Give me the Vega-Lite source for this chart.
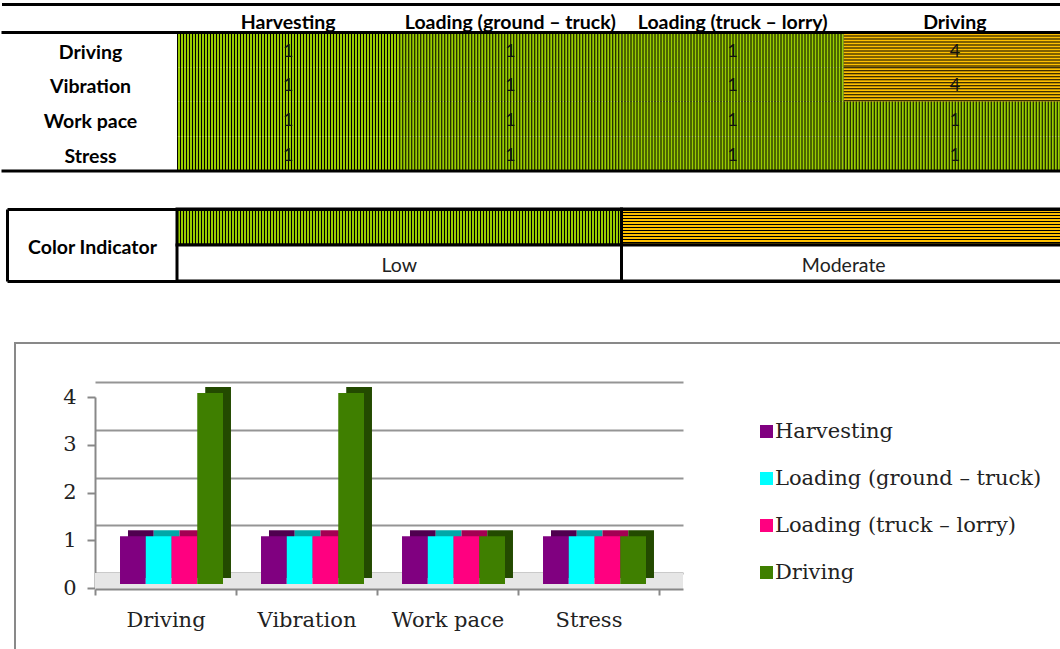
{
  "$schema": "https://vega.github.io/schema/vega-lite/v6.json",
  "background": "white",
  "padding": {"left": 0, "top": 4, "right": 0, "bottom": 0},
  "config": {"view": {"stroke": null}, "font": "Lato"},
  "datasets": {
    "ratings": [
      {"hazard": "Driving", "task": "Harvesting", "rating": 1, "level": "Low"},
      {"hazard": "Driving", "task": "Loading (ground – truck)", "rating": 1, "level": "Low"},
      {"hazard": "Driving", "task": "Loading (truck – lorry)", "rating": 1, "level": "Low"},
      {"hazard": "Driving", "task": "Driving", "rating": 4, "level": "Moderate"},
      {"hazard": "Vibration", "task": "Harvesting", "rating": 1, "level": "Low"},
      {"hazard": "Vibration", "task": "Loading (ground – truck)", "rating": 1, "level": "Low"},
      {"hazard": "Vibration", "task": "Loading (truck – lorry)", "rating": 1, "level": "Low"},
      {"hazard": "Vibration", "task": "Driving", "rating": 4, "level": "Moderate"},
      {"hazard": "Work pace", "task": "Harvesting", "rating": 1, "level": "Low"},
      {"hazard": "Work pace", "task": "Loading (ground – truck)", "rating": 1, "level": "Low"},
      {"hazard": "Work pace", "task": "Loading (truck – lorry)", "rating": 1, "level": "Low"},
      {"hazard": "Work pace", "task": "Driving", "rating": 1, "level": "Low"},
      {"hazard": "Stress", "task": "Harvesting", "rating": 1, "level": "Low"},
      {"hazard": "Stress", "task": "Loading (ground – truck)", "rating": 1, "level": "Low"},
      {"hazard": "Stress", "task": "Loading (truck – lorry)", "rating": 1, "level": "Low"},
      {"hazard": "Stress", "task": "Driving", "rating": 1, "level": "Low"}
    ],
    "levels": [{"level": "Low"}, {"level": "Moderate"}]
  },
  "resolve": {"scale": {"fill": "independent"}},
  "columns": 1,
  "align": "none",
  "spacing": 59,
  "concat": [
    {
      "columns": 1,
      "align": "none",
      "spacing": 34,
      "concat": [
        {
          "width": 1045,
          "height": 167,
          "view": {"stroke": null},
          "data": {"name": "ratings"},
          "encoding": {
            "y": {
              "field": "hazard", "type": "nominal", "sort": null,
              "scale": {"domain": ["Driving", "Vibration", "Work pace", "Stress"], "range": [28.5, 167], "paddingInner": 0, "paddingOuter": 0},
              "axis": {"orient": "left", "offset": -75, "title": null, "ticks": false, "tickSize": 0, "domain": false, "labelPadding": 0, "labelAlign": "center", "labelBaseline": "middle", "labelOffset": 3, "labelFontWeight": "bold", "labelFontSize": 19.5, "labelColor": "black"}
            }
          },
          "layer": [
            {
              "mark": {"type": "rect"},
              "encoding": {
                "x": {
                  "field": "task", "type": "nominal", "sort": null,
                  "scale": {"domain": ["Harvesting", "Loading (ground – truck)", "Loading (truck – lorry)", "Driving"], "range": [-13.5, 1051], "paddingInner": 0, "paddingOuter": 0.39483, "align": 1},
                  "axis": {"orient": "top", "title": null, "ticks": false, "tickSize": 0, "labelPadding": -18, "labelBaseline": "middle", "labelAlign": "center", "labelAngle": 0, "labelFontWeight": "bold", "labelFontSize": 19.5, "labelColor": "black", "labelLimit": 0, "domainColor": "black", "domainWidth": 3}
                },
                "fill": {"field": "level", "type": "nominal", "scale": {"domain": ["Low", "Moderate"], "range": ["#99CC00", "#FFC000"]}, "legend": null}
              }
            },
            {
              "transform": [{"filter": "datum.level === 'Low'"}],
              "mark": {"type": "rule", "color": "black", "strokeWidth": 35, "strokeDash": [1, 2], "clip": true},
              "encoding": {
                "x": {"field": "task", "type": "nominal", "bandPosition": 0},
                "x2": {"field": "task", "bandPosition": 1}
              }
            },
            {
              "transform": [{"filter": "datum.level === 'Moderate'"}],
              "mark": {"type": "rule", "color": "black", "strokeWidth": 222.25, "strokeDash": [1, 2], "clip": true},
              "encoding": {
                "x": {"field": "task", "type": "nominal"},
                "y": {"field": "hazard", "type": "nominal", "bandPosition": 0},
                "y2": {"field": "hazard", "bandPosition": 1}
              }
            },
            {
              "mark": {"type": "text", "fontSize": 18, "color": "#111111", "baseline": "middle", "dy": 2},
              "encoding": {
                "x": {"field": "task", "type": "nominal"},
                "text": {"field": "rating", "type": "quantitative"}
              }
            },
            {
              "data": {"values": [{}]},
              "mark": {"type": "rule", "color": "black", "strokeWidth": 3},
              "encoding": {
                "x": {"datum": "Harvesting", "type": "nominal", "bandPosition": -0.78965},
                "x2": {"datum": "Driving", "bandPosition": 1},
                "y": {"datum": "Driving", "type": "nominal", "bandPosition": 0}
              }
            },
            {
              "data": {"values": [{}]},
              "mark": {"type": "rule", "color": "black", "strokeWidth": 3},
              "encoding": {
                "x": {"datum": "Harvesting", "type": "nominal", "bandPosition": -0.78965},
                "x2": {"datum": "Driving", "bandPosition": 1},
                "y": {"datum": "Stress", "type": "nominal", "bandPosition": 1}
              }
            }
          ]
        },
        {
          "width": 1045,
          "height": 72,
          "view": {"stroke": null},
          "data": {"name": "levels"},
          "resolve": {"axis": {"x": "independent"}},
          "encoding": {
            "x": {"field": "level", "type": "nominal", "sort": null, "scale": {"domain": ["Low", "Moderate"], "range": [-8, 1051], "paddingInner": 0, "paddingOuter": 0.19123, "align": 1}, "axis": null}
          },
          "layer": [
            {
              "mark": {"type": "rect"},
              "encoding": {
                "x": {"field": "level", "type": "nominal", "axis": {"orient": "top", "labels": false, "ticks": false, "title": null, "domainColor": "black", "domainWidth": 3}},
                "y": {
                  "datum": "swatch", "type": "nominal",
                  "scale": {"domain": ["swatch", "label"], "range": [0, 72], "paddingInner": 0, "paddingOuter": 0},
                  "axis": {"orient": "left", "offset": 8, "title": "Color Indicator", "titleAngle": 0, "titleX": 85, "titleY": 38, "titleAlign": "center", "titleBaseline": "middle", "titleFontWeight": "bold", "titleFontSize": 19.5, "titleColor": "black", "labels": false, "domain": true, "domainColor": "black", "domainWidth": 3, "ticks": false, "grid": false}
                },
                "fill": {"field": "level", "type": "nominal", "scale": {"domain": ["Low", "Moderate"], "range": ["#99CC00", "#FFC000"]}, "legend": null}
              }
            },
            {
              "transform": [{"filter": "datum.level === 'Low'"}],
              "mark": {"type": "rule", "color": "black", "strokeWidth": 36, "strokeDash": [1, 2], "clip": true},
              "encoding": {
                "x": {"field": "level", "type": "nominal", "bandPosition": 0, "axis": null},
                "x2": {"field": "level", "bandPosition": 1},
                "y": {"datum": "swatch", "type": "nominal"}
              }
            },
            {
              "transform": [{"filter": "datum.level === 'Moderate'"}],
              "mark": {"type": "rule", "color": "black", "strokeWidth": 444.5, "strokeDash": [1, 2], "clip": true},
              "encoding": {
                "y": {"datum": "swatch", "type": "nominal", "bandPosition": 0},
                "y2": {"datum": "swatch", "bandPosition": 1}
              }
            },
            {
              "mark": {"type": "rect", "fill": "white", "fillOpacity": 0, "stroke": "black", "strokeWidth": 3},
              "encoding": {"y": {"datum": "swatch", "type": "nominal"}}
            },
            {
              "mark": {"type": "rect", "fill": "white", "stroke": "black", "strokeWidth": 3},
              "encoding": {
                "x": {"field": "level", "type": "nominal", "axis": {"orient": "bottom", "labels": false, "ticks": false, "title": null, "domainColor": "black", "domainWidth": 3}},
                "y": {"datum": "label", "type": "nominal"}
              }
            },
            {
              "mark": {"type": "text", "fontSize": 19.5, "color": "#222222", "baseline": "middle", "dy": 3},
              "encoding": {
                "y": {"datum": "label", "type": "nominal"},
                "text": {"field": "level", "type": "nominal"}
              }
            }
          ]
        }
      ]
    },
    {
      "width": 1050,
      "height": 310,
      "view": {"stroke": "#898989", "strokeWidth": 2},
      "data": {"name": "ratings"},
      "resolve": {"axis": {"y": "independent"}, "scale": {"xOffset": "independent"}},
      "layer": [
        {
          "data": {"values": [{}]},
          "mark": {"type": "rect", "color": "#e6e6e6", "yOffset": -15, "y2Offset": 1, "x2Offset": 24},
          "encoding": {
            "x": {"datum": "Driving", "type": "nominal", "bandPosition": 0},
            "x2": {"datum": "Stress", "bandPosition": 1},
            "y": {"datum": 0, "type": "quantitative", "axis": null},
            "y2": {"datum": 0}
          }
        },
        {
          "mark": {"type": "bar", "yOffset": -10, "y2Offset": -10},
          "encoding": {
            "x": {
              "field": "hazard", "type": "nominal", "sort": null,
              "scale": {"domain": ["Driving", "Vibration", "Work pace", "Stress"], "range": [80, 668], "paddingInner": 0, "paddingOuter": 0.0851, "align": 0}
            },
            "xOffset": {"field": "task", "type": "nominal", "sort": null, "scale": {"domain": ["Harvesting", "Loading (ground – truck)", "Loading (truck – lorry)", "Driving"], "paddingInner": 0, "paddingOuter": 0.738, "align": 0.868}},
            "y": {
              "field": "rating", "type": "quantitative",
              "scale": {"domain": [0, 4], "range": [245, 54], "nice": false, "zero": true},
              "axis": {"orient": "left", "grid": true, "gridColor": "#959595", "gridWidth": 2, "tickOffset": -15, "labels": false, "ticks": false, "domain": false, "title": null, "values": [0, 1, 2, 3, 4]}
            },
            "fill": {"field": "task", "type": "nominal", "scale": {"domain": ["Harvesting", "Loading (ground – truck)", "Loading (truck – lorry)", "Driving"], "range": ["#4f004f", "#00a8a8", "#a30052", "#234a00"]}, "legend": null}
          }
        },
        {
          "mark": {"type": "bar", "yOffset": -4, "y2Offset": -4},
          "encoding": {
            "x": {
              "field": "hazard", "type": "nominal", "sort": null,
              "axis": {"orient": "bottom", "offset": -64, "title": null, "tickBand": "extent", "tickSize": 6, "tickColor": "#888888", "tickWidth": 2, "domainColor": "#888888", "domainWidth": 2, "labelFont": "DejaVu Serif", "labelFontSize": 21, "labelColor": "#222222", "labelPadding": 25, "labelAlign": "center", "labelBaseline": "middle", "labelAngle": 0}
            },
            "xOffset": {"field": "task", "type": "nominal", "sort": null, "scale": {"domain": ["Harvesting", "Loading (ground – truck)", "Loading (truck – lorry)", "Driving"], "paddingInner": 0, "paddingOuter": 0.738, "align": 0.658}},
            "y": {
              "field": "rating", "type": "quantitative",
              "axis": {"orient": "left", "offset": -80, "values": [0, 1, 2, 3, 4], "format": "d", "grid": false, "tickSize": 8, "tickColor": "#888888", "tickWidth": 2, "domainColor": "#888888", "domainWidth": 2, "labelFont": "DejaVu Serif", "labelFontSize": 21, "labelColor": "#222222", "labelPadding": 11, "title": null}
            },
            "color": {
              "field": "task", "type": "nominal",
              "scale": {"domain": ["Harvesting", "Loading (ground – truck)", "Loading (truck – lorry)", "Driving"], "range": ["#800080", "#00FFFF", "#FF0080", "#3F7F00"]},
              "legend": {"orient": "none", "legendX": 741, "legendY": 417, "title": null, "symbolType": "square", "symbolSize": 169, "symbolStrokeWidth": 0, "labelFont": "DejaVu Serif", "labelFontSize": 21, "labelColor": "#222222", "labelOffset": -2, "rowPadding": 25, "padding": 0, "labelLimit": 0}
            }
          }
        }
      ]
    }
  ]
}
